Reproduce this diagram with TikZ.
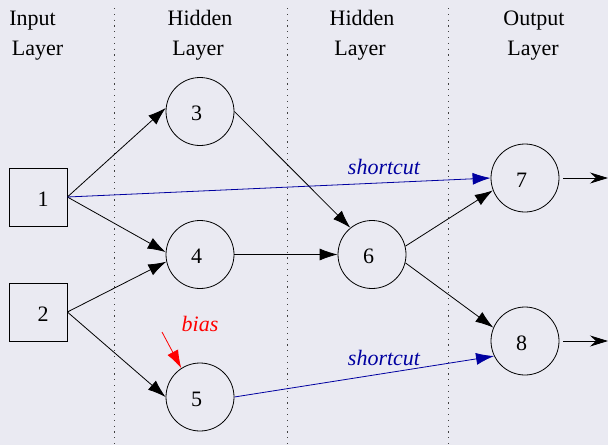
\documentclass[tikz,border=0pt]{standalone}
\usepackage{fontspec}
\setmainfont{Liberation Serif}
\usetikzlibrary{arrows.meta}
\definecolor{bgc}{HTML}{EAEAF2}
\definecolor{navyc}{HTML}{0000A0}
\begin{document}
\begin{tikzpicture}[x=1pt,y=-1pt,
  every node/.style={font=\fontsize{22}{26}\selectfont},
  neuron/.style={draw, circle, minimum size=68pt, inner sep=0pt, line width=0.8pt},
  inbox/.style={draw, rectangle, minimum size=58pt, inner sep=0pt, line width=0.8pt},
  cnum/.style={xshift=-3.5pt, yshift=-2pt},
  snum/.style={xshift=5pt, yshift=-2pt},
  head/.style={anchor=base, inner sep=0pt},
  conn/.style={line width=0.8pt, -{Latex[length=18pt,width=12pt]}},
  outconn/.style={line width=0.8pt, shorten <=4pt, -{Stealth[length=18pt,width=11pt,inset=6pt]}},
  short/.style={conn, draw=navyc, -{Latex[length=18pt,width=12pt,color=navyc]}},
  sep/.style={draw=black!75, line width=1pt, dash pattern=on 1.2pt off 4.6pt}
]
\useasboundingbox (0,0) rectangle (608,445);
\fill[bgc] (0,0) rectangle (608,445);

% layer separators
\coordinate (s1t) at (114,8);   \coordinate (s1b) at (114,445);
\coordinate (s2t) at (287,8);   \coordinate (s2b) at (287,445);
\coordinate (s3t) at (448,8);   \coordinate (s3b) at (448,445);
\draw[sep] (s1t) -- (s1b);
\draw[sep] (s2t) -- (s2b);
\draw[sep] (s3t) -- (s3b);

% headings
\node[head] (h1a) at (32.5,25) {Input};
\node[head] (h1b) at (37.5,55) {Layer};
\node[head] (h2a) at (200,25) {Hidden};
\node[head] (h2b) at (198,55) {Layer};
\node[head] (h3a) at (362,25) {Hidden};
\node[head] (h3b) at (360,55) {Layer};
\node[head] (h4a) at (534,25) {Output};
\node[head] (h4b) at (533,55) {Layer};

% nodes
\node[inbox, label={[snum]center:1}] (n1) at (38,197) {};
\node[inbox, label={[snum]center:2}] (n2) at (38,312) {};
\node[neuron, label={[cnum]center:3}] (n3) at (200,111.5) {};
\node[neuron, label={[cnum]center:4}] (n4) at (200,254.5) {};
\node[neuron, label={[cnum]center:5}] (n5) at (200,397) {};
\node[neuron, label={[cnum]center:6}] (n6) at (372,254.5) {};
\node[neuron, label={[cnum]center:7}] (n7) at (525,178) {};
\node[neuron, label={[cnum]center:8}] (n8) at (525,341) {};

% connections
\draw[conn] (n1.east) -- (n3.174);
\draw[conn] (n1.east) -- (n4.176);
\draw[conn] (n2.east) -- (n4.192);
\draw[conn] (n2.east) -- (n5.west);
\draw[conn] (n3.east) -- (n6.129);
\draw[conn] (n4.east) -- (n6.west);
\draw[conn] (n6.14) -- (n7.201);
\draw[conn] (n6.-14) -- (n8.157);

% shortcuts
\draw[short] (n1.east) -- (n7.west);
\draw[short] (n5.east) -- (n8.206);
\node[head, text=navyc] (sc1) at (384,174) {\itshape shortcut};
\node[head, text=navyc] (sc2) at (384,365) {\itshape shortcut};

% bias
\coordinate (b0) at (162,332);
\draw[conn, draw=red, -{Latex[length=18pt,width=12pt,color=red]}] (b0) -- (n5.123);
\node[head, text=red] (bl) at (200,331) {\itshape bias};

% outputs
\coordinate (o7) at (608,178);
\coordinate (o8) at (608,341);
\draw[outconn] (n7.east) -- (o7);
\draw[outconn] (n8.east) -- (o8);
\end{tikzpicture}
\end{document}
